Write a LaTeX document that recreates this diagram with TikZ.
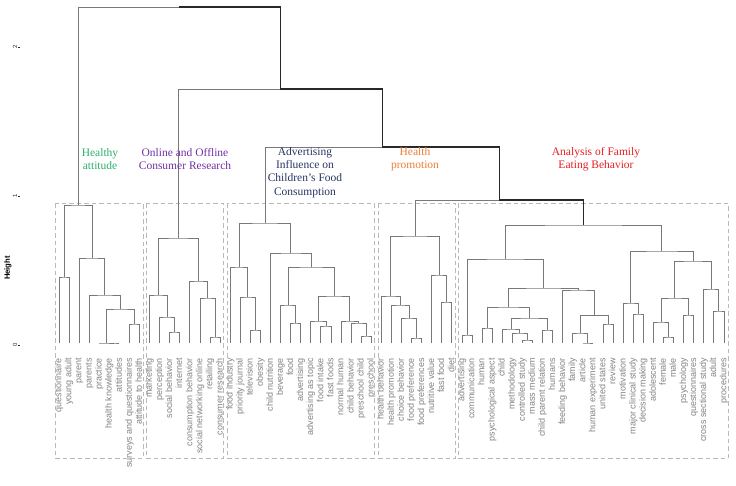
\documentclass[tikz,border=0pt]{standalone}
\usepackage{fontspec}
\setmainfont{Liberation Serif}
\setsansfont{Liberation Sans}
\usetikzlibrary{calc}
\definecolor{treegray}{RGB}{120,120,120}
\definecolor{darkline}{RGB}{40,40,40}
\definecolor{boxgray}{RGB}{185,185,185}
\definecolor{labgray}{RGB}{130,130,130}
\definecolor{cgreen}{RGB}{45,175,110}
\definecolor{cpurple}{RGB}{112,50,165}
\definecolor{cnavy}{RGB}{40,52,100}
\definecolor{corange}{RGB}{237,125,49}
\definecolor{cred}{RGB}{232,30,35}
\newcommand\mrgc[4]{\path let \p1=($(#2)!0.5!(#3)$) in coordinate (#1) at (\x1,-#4pt);}
\newcommand\mrg[4]{\mrgc{#1}{#2}{#3}{#4}\draw[tree] (#2) |- (#1) -| (#3);}
\begin{document}
\begin{tikzpicture}[x=1pt,y=1pt,
  tree/.style={draw=treegray, line width=1pt},
  darktree/.style={draw=darkline, line width=1.3pt},
  clbox/.style={draw=boxgray, dash pattern=on 4.5pt off 3pt, line width=0.9pt},
  leaflab/.style={font=\sffamily\fontsize{9}{9}\selectfont, text=labgray, rotate=90, anchor=mid east, inner sep=0pt},
  cltitle/.style={font=\fontsize{11.5}{13.3}\selectfont, align=center, inner sep=0pt},
  axlab/.style={font=\sffamily\fontsize{6}{6}\selectfont, text=darkline, rotate=90, inner sep=0pt}]
\useasboundingbox (0,0) rectangle (736,-485);
% leaves
\foreach \i/\t in {1/questionnaire,2/young adult,3/parent,4/parents,5/practice,6/health knowledge,7/attitudes,8/surveys and questionnaires,9/attitude to health,10/marketing,11/perception,12/social behavior,13/internet,14/consumption behavior,15/social networking online,16/retailing,17/consumer research,18/food industry,19/priority journal,20/television,21/obesity,22/child nutrition,23/beverage,24/food,25/advertising,26/advertising as topic,27/food intake,28/fast foods,29/normal human,30/child behavior,31/preschool child,32/preschool,33/health behavior,34/health promotion,35/choice behavior,36/food preference,37/food preferences,38/nutritive value,39/fast food,40/diet,41/advertising,42/communication,43/human,44/psychological aspect,45/child,46/methodology,47/controlled study,48/mass medium,49/child parent relation,50/humans,51/feeding behavior,52/family,53/article,54/human experiment,55/united states,56/review,57/motivation,58/major clinical study,59/decision making,60/adolescent,61/female,62/male,63/psychology,64/questionnaires,65/cross sectional study,66/adult,67/procedures}{
  \coordinate (L\i) at ({59+10.076*(\i-1)},-343);
  \node[leaflab] (T\i) at ({59+10.076*(\i-1)},-358) {\t};
}
% cluster boxes
\draw[clbox] (55,-203) rectangle (143,-458);
\draw[clbox] (146,-203) rectangle (223,-458);
\draw[clbox] (227,-203) rectangle (374,-458);
\draw[clbox] (378,-203) rectangle (455,-458);
\draw[clbox] (458,-203) rectangle (728,-458);
% cluster 1
\mrg{c1a}{L1}{L2}{277}
\mrg{c1b}{L6}{L7}{343}
\mrg{c1c}{L5}{c1b}{343}
\mrg{c1d}{L8}{L9}{324}
\mrg{c1e}{c1c}{c1d}{309}
\mrg{c1f}{L4}{c1e}{295}
\mrg{c1g}{L3}{c1f}{258}
\mrg{c1}{c1a}{c1g}{205}
% cluster 2
\mrg{c2a}{L12}{L13}{332}
\mrg{c2b}{L11}{c2a}{317}
\mrg{c2c}{L10}{c2b}{295}
\mrg{c2d}{L16}{L17}{337}
\mrg{c2e}{L15}{c2d}{298}
\mrg{c2f}{L14}{c2e}{281}
\mrg{c2}{c2c}{c2f}{238}
% cluster 3
\mrg{c3a}{L20}{L21}{330}
\mrg{c3b}{L19}{c3a}{297}
\mrg{c3c}{L18}{c3b}{267}
\mrg{c3d}{L24}{L25}{323}
\mrg{c3e}{L23}{c3d}{305}
\mrg{c3f}{L27}{L28}{326}
\mrg{c3g}{L26}{c3f}{321}
\mrg{c3h}{L31}{L32}{336}
\mrg{c3i}{L30}{c3h}{323}
\mrg{c3j}{L29}{c3i}{321}
\mrg{c3k}{c3g}{c3j}{296}
\mrg{c3l}{c3e}{c3k}{267}
\mrg{c3m}{L22}{c3l}{253}
\mrg{c3}{c3c}{c3m}{223}
% cluster 4
\mrg{c4a}{L36}{L37}{338}
\mrg{c4b}{L35}{c4a}{318}
\mrg{c4c}{L34}{c4b}{305}
\mrg{c4d}{L33}{c4c}{296}
\mrg{c4e}{L39}{L40}{302}
\mrg{c4f}{L38}{c4e}{275}
\mrg{c4}{c4d}{c4f}{236}
% cluster 5
\mrg{c5a}{L41}{L42}{335}
\mrg{c5b}{L43}{L44}{328}
\mrg{c5c}{L47}{L48}{340}
\mrg{c5d}{L46}{c5c}{333}
\mrg{c5e}{L45}{c5d}{329}
\mrg{c5f}{L49}{L50}{330}
\mrg{c5g}{c5e}{c5f}{318}
\mrg{c5h}{c5b}{c5g}{307}
\mrg{c5i}{L53}{L54}{343}
\mrg{c5j}{L52}{c5i}{333}
\mrg{c5k}{L55}{L56}{324}
\mrg{c5l}{c5j}{c5k}{315.5}
\mrg{c5m}{L51}{c5l}{290}
\mrg{c5n}{c5h}{c5m}{288}
\mrg{c5o}{c5a}{c5n}{259}
\mrg{c5p}{L58}{L59}{314}
\mrg{c5q}{L57}{c5p}{303}
\mrg{c5r}{L61}{L62}{337}
\mrg{c5s}{L60}{c5r}{322}
\mrg{c5t}{L63}{L64}{315}
\mrg{c5u}{c5s}{c5t}{298}
\mrg{c5v}{L66}{L67}{311}
\mrg{c5w}{L65}{c5v}{289}
\mrg{c5x}{c5u}{c5w}{261}
\mrg{c5y}{c5q}{c5x}{251}
\mrg{c5}{c5o}{c5y}{225}
% upper tree
\mrgc{r3}{c4}{c5}{200}
\draw[tree] (c4) |- (r3);
\draw[darktree] (r3) -| (c5);
\mrgc{r2}{c3}{r3}{147}
\draw[tree] (c3) |- (r2);
\draw[darktree] (r2) -| (r3);
\mrgc{r1}{c2}{r2}{89}
\draw[tree] (c2) |- (r1);
\draw[darktree] (r1) -| (r2);
\mrgc{root}{c1}{r1}{7}
\draw[tree] (c1) |- (root);
\draw[darktree] (root) -| (r1);
% cluster titles
\node[cltitle, text=cgreen] (t1) at (100,-159) {Healthy\\attitude};
\node[cltitle, text=cpurple] (t2) at (185,-159) {Online and Offline\\Consumer Research};
\node[cltitle, text=cnavy] (t3) at (305,-172.5) {Advertising\\Influence on\\Children's Food\\Consumption};
\node[cltitle, text=corange] (t4) at (415,-159) {Health\\promotion};
\node[cltitle, text=cred] (t5) at (596,-159) {Analysis of Family\\Eating Behavior};
% axis
\node[axlab] (a0) at (15,-345) {0};
\node[axlab] (a1) at (15,-196) {1};
\node[axlab] (a2) at (15,-47) {2};
\draw[darkline, line width=0.4pt] (a0.south) ++(0.5,0) -- ++(2,0);
\draw[darkline, line width=0.4pt] (a1.south) ++(0.5,0) -- ++(2,0);
\draw[darkline, line width=0.4pt] (a2.south) ++(0.5,0) -- ++(2,0);
\node[rotate=90, font=\sffamily\bfseries\fontsize{7.7}{8}\selectfont, inner sep=0pt] (hl) at (8,-268) {Height};
\end{tikzpicture}
\end{document}
